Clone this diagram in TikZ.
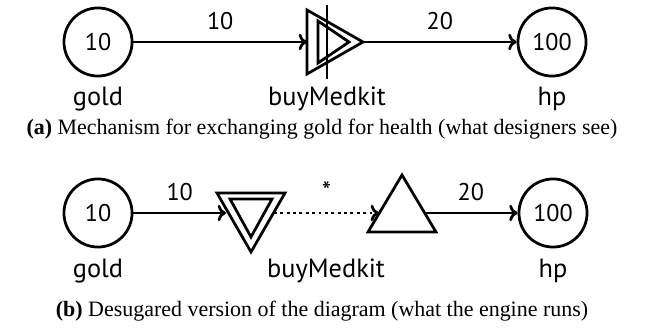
\documentclass[tikz,border=0pt]{standalone}
\usepackage{fontspec}
\setmainfont{Liberation Serif}
\setsansfont{PT Sans}
\usetikzlibrary{arrows.meta}
\tikzset{every path/.style={line width=1.25pt},
  flow/.style={-{To[length=3.8pt,width=7.5pt]}},
  pool/.style={draw, circle, minimum size=31pt, inner sep=0pt, font=\sffamily\fontsize{11}{13}\selectfont},
  num/.style={font=\sffamily\fontsize{11}{13}\selectfont, inner sep=1pt},
  lbl/.style={font=\sffamily\large, inner sep=1pt}}

\begin{document}
\begin{tikzpicture}[x=0.016cm,y=-0.016cm]
  \useasboundingbox (0,0) rectangle (645,332);
  % (a) the converter as one node
  \node[pool] (g1) at (98,42) {10};
  \node[pool] (h1) at (552,42) {100};
  \coordinate (c1) at (307,42);
  \coordinate (c2) at (363,42);
  \draw[flow] (g1) -- node[num, above=4pt] {10} (c1);
  \draw[flow] (c2) -- node[num, above=4pt] {20} (h1);
  \draw (307,10) -- (363,42) -- (307,74) -- cycle;
  \draw (318,21) -- (349,42) -- (318,63) -- cycle;
  \draw (327,5) -- (327,79);
  \node[lbl] (n1) at (98,99) {gold};
  \node[lbl] (n2) at (327,99) {buyMedkit};
  \node[lbl] (n3) at (552,99) {hp};
  \node (capa) at (322,129) {\textbf{(a)} Mechanism for exchanging gold for health (what designers see)};
  % (b) drain and source joined by a trigger
  \node[pool] (g2) at (98,213) {10};
  \node[pool] (h2) at (553,213) {100};
  \coordinate (d1) at (226,213);
  \coordinate (d2) at (274,213);
  \coordinate (e1) at (379,213);
  \coordinate (e2) at (424,213);
  \draw[flow] (g2) -- node[num, above=4pt] {10} (d1);
  \draw[flow, dash pattern=on 1.3pt off 1.6pt] (d2) -- node[lbl, above=4pt] {*} (e1);
  \draw[flow] (e2) -- node[num, above=4pt] {20} (h2);
  \draw (217,193) -- (285,193) -- (251,252) -- cycle;
  \draw (230,199) -- (272,199) -- (251,237) -- cycle;
  \draw (368,232) -- (402,175) -- (436,232) -- cycle;
  \node[lbl] (m1) at (98,271) {gold};
  \node[lbl] (m2) at (326,271) {buyMedkit};
  \node[lbl] (m3) at (553,271) {hp};
  \node (capb) at (322,311) {\textbf{(b)} Desugared version of the diagram (what the engine runs)};
\end{tikzpicture}
\end{document}
